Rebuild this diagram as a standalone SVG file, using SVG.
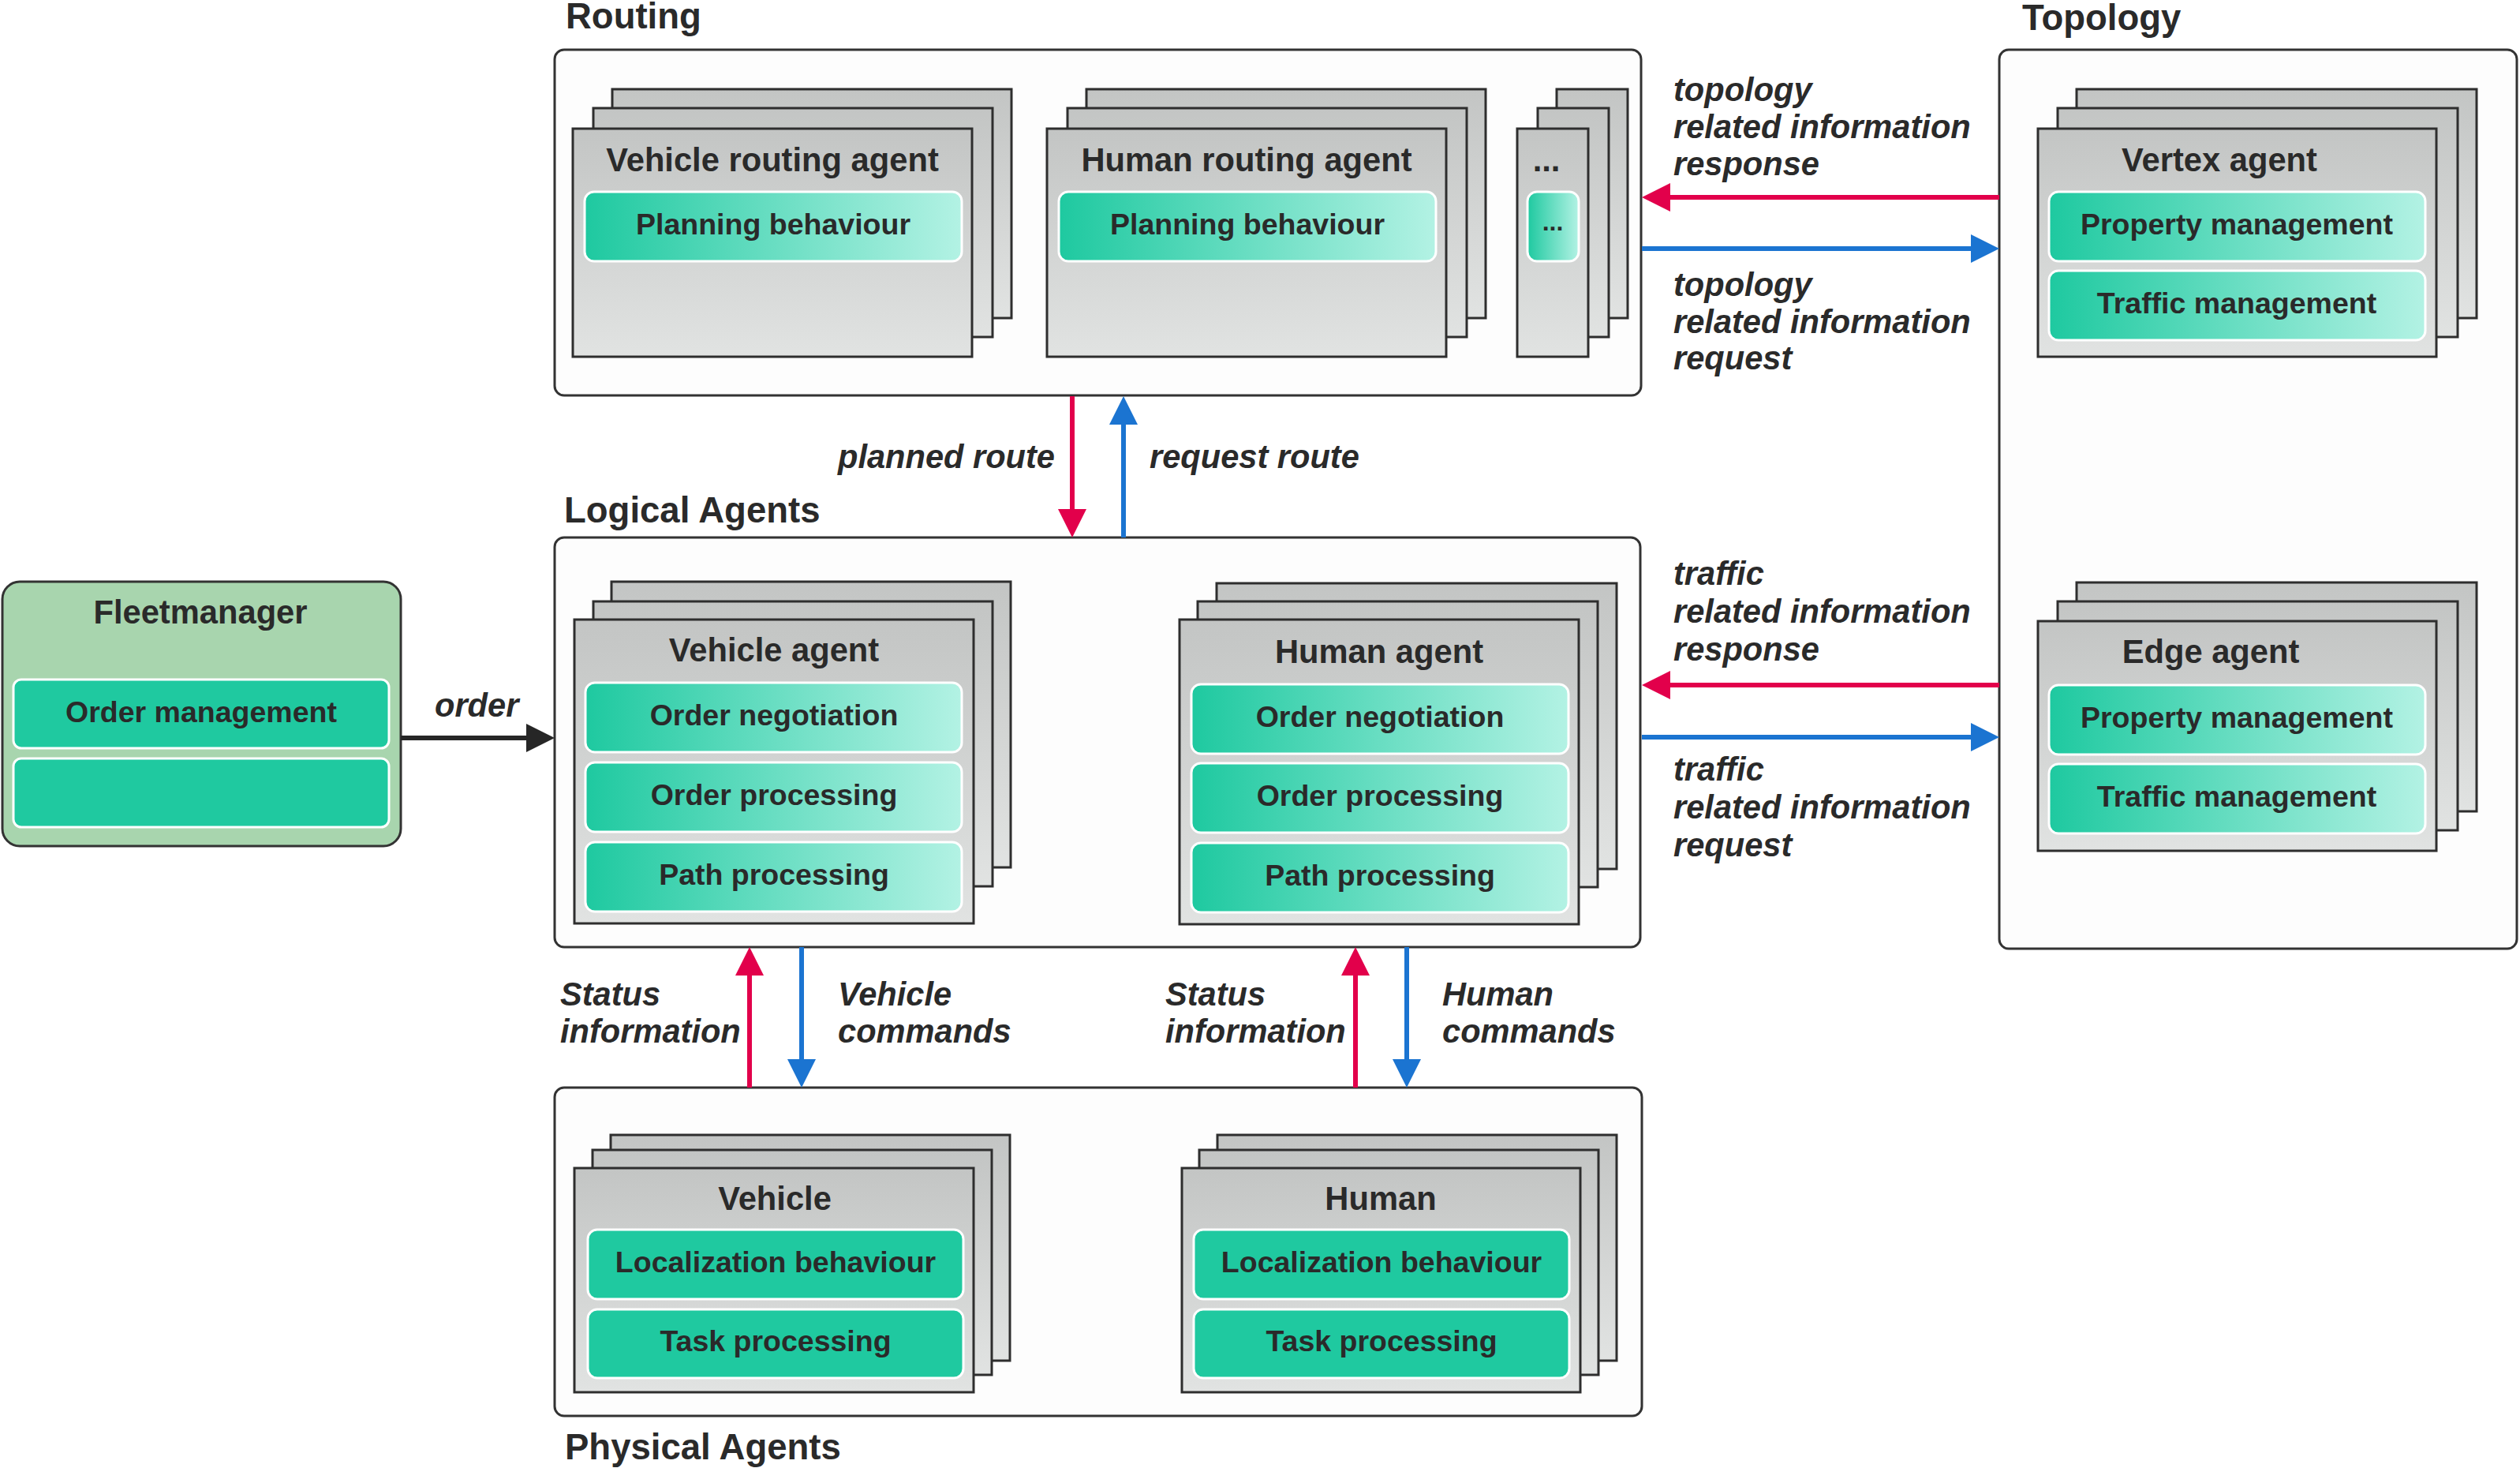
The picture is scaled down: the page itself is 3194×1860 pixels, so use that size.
<svg xmlns="http://www.w3.org/2000/svg" width="3194" height="1860" viewBox="0 0 3194 1860">
<defs>
<linearGradient id="gCard" x1="0" y1="0" x2="0" y2="1">
<stop offset="0" stop-color="#c3c5c4"/>
<stop offset="1" stop-color="#e1e3e2"/>
</linearGradient>
<linearGradient id="gInner" x1="0" y1="0" x2="1" y2="0">
<stop offset="0" stop-color="#1ec9a0"/>
<stop offset="1" stop-color="#b3f2e4"/>
</linearGradient>
<marker id="mRed" markerUnits="userSpaceOnUse" viewBox="0 0 36 36" markerWidth="36" markerHeight="36" refX="26" refY="18" orient="auto"><path d="M0,0 L36,18 L0,36 z" fill="#e2004b"/></marker>
<marker id="mBlue" markerUnits="userSpaceOnUse" viewBox="0 0 36 36" markerWidth="36" markerHeight="36" refX="26" refY="18" orient="auto"><path d="M0,0 L36,18 L0,36 z" fill="#1b74d1"/></marker>
<marker id="mBlack" markerUnits="userSpaceOnUse" viewBox="0 0 36 36" markerWidth="36" markerHeight="36" refX="26" refY="18" orient="auto"><path d="M0,0 L36,18 L0,36 z" fill="#262626"/></marker>
</defs>
<style>
text{font-family:"Liberation Sans",Arial,sans-serif;font-weight:bold;fill:#2a2a2a}
.title{font-size:45.5px}
.ct{font-size:41.7px;text-anchor:middle}
.it{font-size:37.5px;text-anchor:middle}
.lbl{font-size:41.6px;font-style:italic}
.outer{fill:#fdfdfd;stroke:#333;stroke-width:3}
.card{fill:url(#gCard);stroke:#2e2e2e;stroke-width:3}
.inner{fill:url(#gInner);stroke:#fff;stroke-width:3}
.solid{fill:#1fc9a0;stroke:#fff;stroke-width:3}
.fleet{fill:#a8d5ae;stroke:#333;stroke-width:3}
.red{stroke:#e2004b;stroke-width:6;fill:none;marker-end:url(#mRed)}
.blue{stroke:#1b74d1;stroke-width:6;fill:none;marker-end:url(#mBlue)}
.black{stroke:#262626;stroke-width:6;fill:none;marker-end:url(#mBlack)}
</style>
<rect width="3194" height="1860" fill="#ffffff"/>

<g id="routing">
<rect class="outer" x="703" y="63" width="1377" height="438" rx="12"/>
<text class="title" x="717" y="36">Routing</text>
</g>
<g id="vehicle-routing-agent">
<rect class="card" x="776" y="113" width="506" height="290"/>
<rect class="card" x="752" y="137" width="506" height="290"/>
<rect class="card" x="726" y="163" width="506" height="289"/>
<text class="ct" x="979" y="217">Vehicle routing agent</text>
<rect class="inner" x="741" y="243" width="478" height="88" rx="12"/>
<text class="it" x="980" y="297">Planning behaviour</text>
</g>
<g id="human-routing-agent">
<rect class="card" x="1377" y="113" width="506" height="290"/>
<rect class="card" x="1353" y="137" width="506" height="290"/>
<rect class="card" x="1327" y="163" width="506" height="289"/>
<text class="ct" x="1580" y="217">Human routing agent</text>
<rect class="inner" x="1342" y="243" width="478" height="88" rx="12"/>
<text class="it" x="1581" y="297">Planning behaviour</text>
</g>
<g id="more-routing-agents">
<rect class="card" x="1973" y="113" width="90" height="290"/>
<rect class="card" x="1949" y="137" width="90" height="290"/>
<rect class="card" x="1923" y="163" width="90" height="289"/>
<text class="ct" x="1960" y="217">...</text>
<rect class="inner" x="1936" y="243" width="65" height="88" rx="12"/>
<text class="it" x="1968" y="292" style="font-size:32px">...</text>
</g>

<g id="topology">
<rect class="outer" x="2534" y="63" width="656" height="1139" rx="12"/>
<text class="title" x="2563" y="38">Topology</text>
</g>
<g id="vertex-agent">
<rect class="card" x="2632" y="113" width="507" height="290"/>
<rect class="card" x="2608" y="137" width="507" height="290"/>
<rect class="card" x="2583" y="163" width="505" height="289"/>
<text class="ct" x="2813" y="217">Vertex agent</text>
<rect class="inner" x="2597" y="243" width="477" height="88" rx="12"/>
<text class="it" x="2835" y="297">Property management</text>
<rect class="inner" x="2597" y="343" width="477" height="88" rx="12"/>
<text class="it" x="2835" y="397">Traffic management</text>
</g>
<g id="edge-agent">
<rect class="card" x="2632" y="738" width="507" height="290"/>
<rect class="card" x="2608" y="762" width="507" height="290"/>
<rect class="card" x="2583" y="787" width="505" height="291"/>
<text class="ct" x="2802" y="840">Edge agent</text>
<rect class="inner" x="2597" y="868" width="477" height="88" rx="12"/>
<text class="it" x="2835" y="922">Property management</text>
<rect class="inner" x="2597" y="968" width="477" height="88" rx="12"/>
<text class="it" x="2835" y="1022">Traffic management</text>
</g>

<g id="fleetmanager">
<rect class="fleet" x="3" y="737" width="505" height="335" rx="22"/>
<text class="ct" x="254" y="790">Fleetmanager</text>
<rect class="solid" x="17" y="861" width="476" height="87" rx="10"/>
<text class="it" x="255" y="915">Order management</text>
<rect class="solid" x="17" y="961" width="476" height="87" rx="10"/>
</g>

<g id="logical-agents">
<rect class="outer" x="703" y="681" width="1376" height="519" rx="12"/>
<text class="title" x="715" y="662">Logical Agents</text>
</g>
<g id="vehicle-agent">
<rect class="card" x="775" y="737" width="506" height="362"/>
<rect class="card" x="752" y="762" width="506" height="361"/>
<rect class="card" x="728" y="785" width="506" height="385"/>
<text class="ct" x="981" y="838">Vehicle agent</text>
<rect class="inner" x="742" y="865" width="477" height="88" rx="12"/>
<text class="it" x="981" y="919">Order negotiation</text>
<rect class="inner" x="742" y="966" width="477" height="88" rx="12"/>
<text class="it" x="981" y="1020">Order processing</text>
<rect class="inner" x="742" y="1067" width="477" height="88" rx="12"/>
<text class="it" x="981" y="1121">Path processing</text>
</g>
<g id="human-agent">
<rect class="card" x="1542" y="739" width="507" height="362"/>
<rect class="card" x="1518" y="762" width="507" height="362"/>
<rect class="card" x="1495" y="785" width="506" height="386"/>
<text class="ct" x="1748" y="840">Human agent</text>
<rect class="inner" x="1510" y="867" width="478" height="88" rx="12"/>
<text class="it" x="1749" y="921">Order negotiation</text>
<rect class="inner" x="1510" y="967" width="478" height="88" rx="12"/>
<text class="it" x="1749" y="1021">Order processing</text>
<rect class="inner" x="1510" y="1068" width="478" height="88" rx="12"/>
<text class="it" x="1749" y="1122">Path processing</text>
</g>

<g id="physical-agents">
<rect class="outer" x="703" y="1378" width="1378" height="416" rx="12"/>
<text class="title" x="716" y="1849">Physical Agents</text>
</g>
<g id="vehicle">
<rect class="card" x="774" y="1438" width="506" height="286"/>
<rect class="card" x="751" y="1457" width="506" height="285"/>
<rect class="card" x="728" y="1480" width="506" height="284"/>
<text class="ct" x="982" y="1533">Vehicle</text>
<rect class="solid" x="745" y="1558" width="476" height="88" rx="12"/>
<text class="it" x="983" y="1612">Localization behaviour</text>
<rect class="solid" x="745" y="1659" width="476" height="87" rx="12"/>
<text class="it" x="983" y="1712">Task processing</text>
</g>
<g id="human">
<rect class="card" x="1543" y="1438" width="506" height="286"/>
<rect class="card" x="1520" y="1457" width="506" height="285"/>
<rect class="card" x="1498" y="1480" width="505" height="284"/>
<text class="ct" x="1750" y="1533">Human</text>
<rect class="solid" x="1513" y="1558" width="476" height="88" rx="12"/>
<text class="it" x="1751" y="1612">Localization behaviour</text>
<rect class="solid" x="1513" y="1659" width="476" height="87" rx="12"/>
<text class="it" x="1751" y="1712">Task processing</text>
</g>

<g id="connectors">
<line class="black" x1="508" y1="935" x2="693" y2="935"/>
<line class="red" x1="1359" y1="502" x2="1359" y2="671"/>
<line class="blue" x1="1424" y1="681" x2="1424" y2="512"/>
<line class="red" x1="2534" y1="250" x2="2091" y2="250"/>
<line class="blue" x1="2081" y1="315" x2="2524" y2="315"/>
<line class="red" x1="2534" y1="868" x2="2091" y2="868"/>
<line class="blue" x1="2081" y1="934" x2="2524" y2="934"/>
<line class="red" x1="950" y1="1378" x2="950" y2="1210"/>
<line class="blue" x1="1016" y1="1200" x2="1016" y2="1368"/>
<line class="red" x1="1718" y1="1378" x2="1718" y2="1210"/>
<line class="blue" x1="1783" y1="1200" x2="1783" y2="1368"/>
<text class="lbl" x="551" y="908">order</text>
<text class="lbl" x="1062" y="593">planned route</text>
<text class="lbl" x="1457" y="593">request route</text>
<text class="lbl" x="2121" y="128">topology</text>
<text class="lbl" x="2121" y="175">related information</text>
<text class="lbl" x="2121" y="222">response</text>
<text class="lbl" x="2121" y="375">topology</text>
<text class="lbl" x="2121" y="422">related information</text>
<text class="lbl" x="2121" y="468">request</text>
<text class="lbl" x="2121" y="741">traffic</text>
<text class="lbl" x="2121" y="789">related information</text>
<text class="lbl" x="2121" y="837">response</text>
<text class="lbl" x="2121" y="989">traffic</text>
<text class="lbl" x="2121" y="1037">related information</text>
<text class="lbl" x="2121" y="1085">request</text>
<text class="lbl" x="710" y="1274">Status</text>
<text class="lbl" x="710" y="1321">information</text>
<text class="lbl" x="1062" y="1274">Vehicle</text>
<text class="lbl" x="1062" y="1321">commands</text>
<text class="lbl" x="1477" y="1274">Status</text>
<text class="lbl" x="1477" y="1321">information</text>
<text class="lbl" x="1828" y="1274">Human</text>
<text class="lbl" x="1828" y="1321">commands</text>
</g>
</svg>
